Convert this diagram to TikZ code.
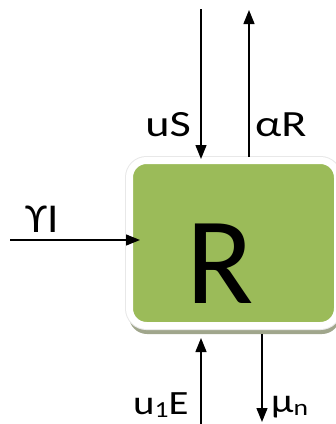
\documentclass[tikz,border=0pt]{standalone}
\usepackage{fontspec}
\setmainfont{Carlito}
\usepackage{tikz}
\usetikzlibrary{arrows.meta,backgrounds}

\definecolor{boxgreen}{RGB}{155,187,89}
\definecolor{boxshadow}{RGB}{160,166,140}
\newcommand{\lowsub}[1]{\raisebox{-3pt}{\fontsize{23}{23}\selectfont #1}}
\newcommand{\widetext}[2][1.25]{\scalebox{#1}[1]{#2}}

\begin{document}
\begin{tikzpicture}[x=1pt, y=-1pt,
    flow/.style={-{Triangle[length=14pt,width=11pt]}, line width=1.3pt},
    lbl/.style={inner sep=0pt, font=\fontsize{37}{37}\selectfont}]
    \useasboundingbox (0,0) rectangle (336,424);

    \node[fill=boxgreen, draw=white, line width=7pt, rounded corners=17pt,
          minimum width=208pt, minimum height=165pt,
          preaction={draw=gray!18, line width=9pt}] (box) at (233.5,243) {};
    \begin{scope}[on background layer]
      \fill[boxshadow, rounded corners=18pt]
        ([xshift=3pt,yshift=-5pt]box.south west) rectangle ([xshift=-1pt,yshift=-5pt]box.north east);
    \end{scope}
    \node[anchor=base, inner sep=0pt, font=\fontsize{124}{124}\selectfont] (rname) at (220.5,303) {R};

    \coordinate (sin)   at (201,9);
    \coordinate (aout)  at (249,10);
    \coordinate (yin)   at (10,240);
    \coordinate (ein)   at (201,424);
    \coordinate (muout) at (262,422);

    \draw[flow, shorten >=-2pt] (sin) -- (sin |- box.north);
    \draw[flow] (aout |- box.north) -- (aout);
    \draw[flow, shorten >=-14pt] (yin) -- (yin -| box.west);
    \draw[flow, shorten >=9pt] (ein) -- (ein |- box.south);
    \draw[flow, shorten <=5pt] (muout |- box.south) -- (muout);

    \node[lbl, anchor=base east] (slbl) at (191,136) {\widetext{uS}};
    \node[lbl, anchor=base west] (albl) at (255,136) {\widetext{αR}};
    \node[lbl, anchor=base west, font=\fontsize{41}{41}\selectfont] (ylbl) at (25,232) {\widetext[1.1]{ϒI}};
    \node[lbl, anchor=base west, font=\fontsize{34}{34}\selectfont] (elbl) at (133,414) {\widetext[1.2]{u\lowsub{1}E}};
    \node[lbl, anchor=base west, font=\fontsize{34}{34}\selectfont] (mlbl) at (271,412) {\widetext[1.2]{μ\lowsub{n}}};
\end{tikzpicture}
\end{document}
